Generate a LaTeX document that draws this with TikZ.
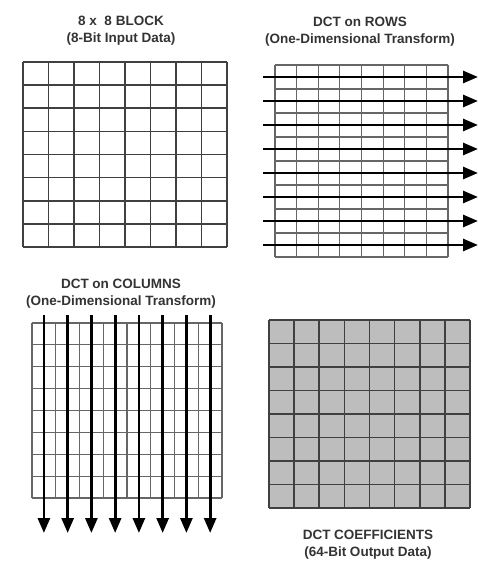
\documentclass[tikz,border=0pt]{standalone}
\usepackage{fontspec}
\setmainfont{Liberation Sans}
\usetikzlibrary{arrows.meta}
\tikzset{
  title/.style={font=\fontsize{13.5}{17}\selectfont\bfseries, text=black!80, align=center, inner sep=0pt},
  gridA/.style={draw=black!75, line width=1.6pt},
  gridB/.style={draw=black!60, line width=1.1pt},
  flow/.style={draw=black, line width=2.8pt, -{Triangle[length=15pt,width=12pt]}},
}
\begin{document}
\begin{tikzpicture}[x=1pt,y=-1pt]
\useasboundingbox (0,0) rectangle (478,561);
% ---- top left: input block
\node[title] (t1) at (121,31) {8 x \ 8 BLOCK\\(8-Bit Input Data)};
\foreach \i in {0,...,8} {
  \draw[gridA] ({23+\i*25.5},62) -- ({23+\i*25.5},247);
  \draw[gridA] (23,{62+\i*23.125}) -- (227,{62+\i*23.125});
}
% ---- top right: DCT on rows
\node[title] (t2) at (360,32) {DCT on ROWS\\(One-Dimensional Transform)};
\foreach \i in {0,...,8} {
  \draw[gridB] ({275+\i*21.625},65) -- ({275+\i*21.625},257);
  \draw[gridB] (275,{65+\i*24}) -- (448,{65+\i*24});
}
\foreach \i in {0,...,7} {
  \coordinate (rs\i) at (263,{77+\i*24});
  \coordinate (re\i) at (478,{77+\i*24});
  \draw[flow] (rs\i) -- (re\i);
}
% ---- bottom left: DCT on columns
\node[title] (t3) at (121,294) {DCT on COLUMNS\\(One-Dimensional Transform)};
\foreach \i in {0,...,8} {
  \draw[gridB] ({32+\i*23.75},323) -- ({32+\i*23.75},498);
  \draw[gridB] (32,{323+\i*21.875}) -- (222,{323+\i*21.875});
}
\foreach \i in {0,...,7} {
  \coordinate (cs\i) at ({43.9+\i*23.75},315);
  \coordinate (ce\i) at ({43.9+\i*23.75},533);
  \draw[flow] (cs\i) -- (ce\i);
}
% ---- bottom right: coefficients
\fill[black!26] (269,320) rectangle (470,508);
\foreach \i in {0,...,8} {
  \draw[gridA] ({269+\i*25.125},320) -- ({269+\i*25.125},508);
  \draw[gridA] (269,{320+\i*23.5}) -- (470,{320+\i*23.5});
}
\node[title] (t4) at (368,545) {DCT COEFFICIENTS\\(64-Bit Output Data)};
\end{tikzpicture}
\end{document}
